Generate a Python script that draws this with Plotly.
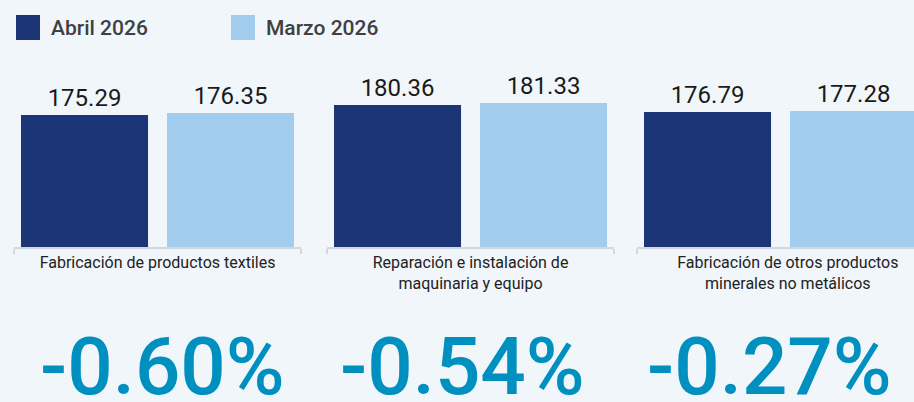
import plotly.graph_objects as go

# ---- data ----
categorias = [
    "Fabricación de productos textiles",
    "Reparación e instalación de maquinaria y equipo",
    "Fabricación de otros productos minerales no metálicos",
]
etiquetas = [
    "Fabricación de productos textiles",
    "Reparación e instalación de<br>maquinaria y equipo",
    "Fabricación de otros productos<br>minerales no metálicos",
]
series = ["Abril 2026", "Marzo 2026"]
abril = [175.29, 180.36, 176.79]
marzo = [176.35, 181.33, 177.28]
variacion = [-0.60, -0.54, -0.27]

# ---- style ----
W, H = 914, 402
colores = ["#1b3576", "#a3cdee"]
BG = "#f1f6fb"
AXIS_COLOR = "#d3d8de"
FONT = "Roboto"

def pxx(v):
    return v / W

def pxy(v):
    return 1 - v / H

dominios = [(14, 301), (327, 614), (637, 914)]
UNIT = 146.0          # pixels per x unit
X0 = -0.483
label_pos = [0.5, 0.5, 0.55]
pct_x = [162, 462, 769]
Y_RANGE = [108.86, 202.97]
Y_DOMAIN = [pxy(247), pxy(60)]

fig = go.Figure()
layout = {}
annotations = []
shapes = []

for i in range(len(categorias)):
    sfx = "" if i == 0 else str(i + 1)
    for j, (nombre, vals) in enumerate(zip(series, [abril, marzo])):
        fig.add_trace(go.Bar(
            x=[j], y=[vals[i]], xaxis="x" + sfx, yaxis="y" + sfx,
            name=nombre, marker=dict(color=colores[j], line=dict(width=0)),
            width=0.87, text=[f"{vals[i]:.2f}"], textposition="outside",
            textfont=dict(size=24, color="#1a1a1a", family=FONT),
            cliponaxis=False, showlegend=False, hoverinfo="skip",
        ))
    d0, d1 = dominios[i]
    layout["xaxis" + sfx] = dict(
        domain=[pxx(d0), pxx(d1)],
        range=[X0, X0 + (d1 - d0) / UNIT],
        anchor="y" + sfx,
        showline=True, linecolor=AXIS_COLOR, linewidth=2,
        showgrid=False, zeroline=False,
        tickmode="array", tickvals=[label_pos[i]], ticktext=[etiquetas[i]],
        ticks="", tickfont=dict(size=16, color="#222222", family=FONT),
        minor=dict(tickmode="array", tickvals=[X0, X0 + 287 / UNIT],
                   ticks="outside", ticklen=5, tickwidth=2, tickcolor=AXIS_COLOR),
        fixedrange=True,
    )
    layout["yaxis" + sfx] = dict(
        domain=Y_DOMAIN, range=Y_RANGE, anchor="x" + sfx,
        visible=False, fixedrange=True,
    )
    annotations.append(dict(
        x=pxx(pct_x[i]), y=pxy(367), xref="paper", yref="paper",
        xanchor="center", yanchor="middle", showarrow=False,
        text=f"{variacion[i]:.2f}%",
        font=dict(size=80, color="#0090c0", family=FONT, weight=500),
    ))

# custom legend
leg_sq = [(16, 40), (231, 255)]
leg_tx = [49, 264]
for j, nombre in enumerate(series):
    shapes.append(dict(type="rect", xref="paper", yref="paper",
                       x0=pxx(leg_sq[j][0]), x1=pxx(leg_sq[j][1]),
                       y0=pxy(40), y1=pxy(15),
                       fillcolor=colores[j], line=dict(width=0)))
    annotations.append(dict(
        x=pxx(leg_tx[j]), y=pxy(28), xref="paper", yref="paper",
        xanchor="left", yanchor="middle", showarrow=False, text=nombre,
        font=dict(size=21, color="#404040", family=FONT, weight=500),
    ))

fig.update_layout(
    width=W, height=H, margin=dict(l=0, r=0, t=0, b=0),
    paper_bgcolor=BG, plot_bgcolor=BG, showlegend=False,
    barmode="overlay", annotations=annotations, shapes=shapes,
    **layout,
)

fig.write_html(
    "out.html",
    config={"displayModeBar": False},
    post_script="document.body.style.margin='0';document.body.style.overflow='hidden';"
                "document.body.style.background='" + BG + "';",
)
